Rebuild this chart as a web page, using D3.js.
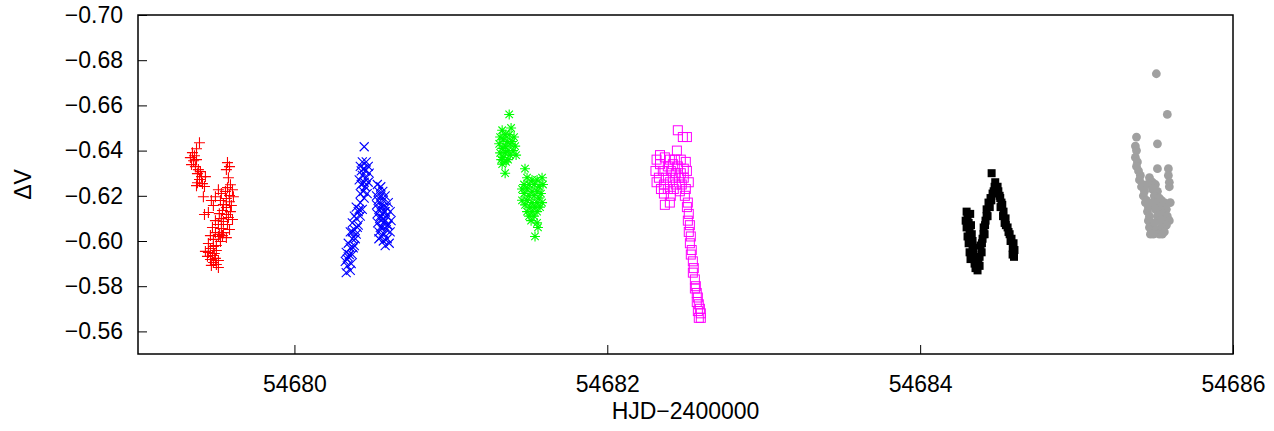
<!DOCTYPE html>
<html>
<head>
<meta charset="utf-8">
<script src="https://cdn.jsdelivr.net/npm/d3@7"></script>
<style>
  html, body { margin: 0; padding: 0; background: #fff; }
  svg { display: block; font-family: "Liberation Sans", Arial, sans-serif; }
</style>
</head>
<body>
<svg id="chart" width="1274" height="431"></svg>
<script>
// ---- Data (HJD-2400000, ΔV) ----
const xTicks = [54680, 54682, 54684, 54686];
const yTicks = [-0.70, -0.68, -0.66, -0.64, -0.62, -0.60, -0.58, -0.56];
const xLabel = "HJD\u22122400000";
const yLabel = "\u0394V";

const redPlus = [
  [54679.393,-0.6435],[54679.374,-0.6408],[54679.348,-0.6391],[54679.361,-0.6377],[54679.335,-0.6369],
  [54679.355,-0.6355],[54679.374,-0.6360],[54679.342,-0.6338],[54679.367,-0.6329],[54679.386,-0.6316],
  [54679.380,-0.6298],[54679.399,-0.6307],[54679.406,-0.6285],[54679.393,-0.6272],[54679.431,-0.6285],
  [54679.380,-0.6258],[54679.412,-0.6254],[54679.374,-0.6245],[54679.425,-0.6241],[54679.418,-0.6196],
  [54679.572,-0.6347],[54679.585,-0.6329],[54679.565,-0.6316],[54679.578,-0.6280],[54679.591,-0.6249],
  [54679.604,-0.6227],[54679.572,-0.6236],[54679.559,-0.6219],[54679.514,-0.6227],[54679.533,-0.6210],
  [54679.495,-0.6196],[54679.585,-0.6201],[54679.610,-0.6196],[54679.565,-0.6188],[54679.469,-0.6179],
  [54679.527,-0.6179],[54679.585,-0.6174],[54679.482,-0.6157],[54679.546,-0.6161],[54679.597,-0.6157],
  [54679.565,-0.6148],[54679.540,-0.6135],[54679.591,-0.6130],[54679.520,-0.6121],[54679.565,-0.6117],
  [54679.425,-0.6117],[54679.450,-0.6126],[54679.578,-0.6104],[54679.533,-0.6099],[54679.604,-0.6095],
  [54679.495,-0.6090],[54679.546,-0.6086],[54679.514,-0.6073],[54679.572,-0.6073],[54679.476,-0.6060],
  [54679.533,-0.6055],[54679.585,-0.6051],[54679.495,-0.6037],[54679.546,-0.6037],[54679.463,-0.6024],
  [54679.514,-0.6020],[54679.565,-0.6015],[54679.482,-0.6007],[54679.527,-0.5998],[54679.450,-0.5989],
  [54679.501,-0.5980],[54679.520,-0.6029],[54679.540,-0.6024],[54679.482,-0.5976],[54679.501,-0.5958],
  [54679.463,-0.5967],[54679.488,-0.5945],[54679.450,-0.5949],[54679.476,-0.5936],[54679.444,-0.5932],
  [54679.495,-0.5923],[54679.463,-0.5918],[54679.482,-0.5905],[54679.514,-0.5914],[54679.501,-0.5896],
  [54679.469,-0.5892],[54679.514,-0.5883],[54679.431,-0.5954]
];

const blueCross = [
  [54680.446,-0.6417],
  [54680.434,-0.635],[54680.459,-0.635],[54680.421,-0.633],[54680.446,-0.632],[54680.472,-0.633],
  [54680.427,-0.631],[54680.453,-0.631],[54680.478,-0.630],[54680.434,-0.629],[54680.459,-0.628],
  [54680.414,-0.627],[54680.446,-0.626],[54680.472,-0.626],[54680.427,-0.625],[54680.453,-0.624],
  [54680.440,-0.622],[54680.465,-0.621],[54680.421,-0.621],[54680.446,-0.619],
  [54680.421,-0.617],[54680.395,-0.615],[54680.434,-0.614],[54680.408,-0.613],[54680.383,-0.611],
  [54680.421,-0.611],[54680.395,-0.610],[54680.370,-0.608],[54680.408,-0.607],[54680.383,-0.605],
  [54680.357,-0.604],[54680.395,-0.603],[54680.370,-0.601],[54680.344,-0.599],[54680.383,-0.598],
  [54680.357,-0.597],[54680.331,-0.595],[54680.370,-0.594],[54680.344,-0.593],[54680.325,-0.591],
  [54680.363,-0.590],[54680.338,-0.589],[54680.357,-0.587],[54680.331,-0.586],[54680.370,-0.604],
  [54680.389,-0.601],[54680.351,-0.594],[54680.376,-0.597],[54680.402,-0.606],[54680.414,-0.614],
  [54680.338,-0.592],
  [54680.530,-0.625],[54680.552,-0.624],[54680.538,-0.622],[54680.565,-0.622],[54680.525,-0.620],
  [54680.552,-0.620],[54680.580,-0.620],[54680.535,-0.618],[54680.568,-0.618],[54680.600,-0.617],
  [54680.525,-0.616],[54680.555,-0.616],[54680.587,-0.615],[54680.540,-0.614],[54680.574,-0.613],
  [54680.612,-0.613],[54680.528,-0.612],[54680.561,-0.612],[54680.593,-0.611],[54680.545,-0.610],
  [54680.580,-0.609],[54680.618,-0.609],[54680.532,-0.608],[54680.568,-0.608],[54680.600,-0.607],
  [54680.549,-0.606],[54680.587,-0.605],[54680.540,-0.604],[54680.574,-0.603],[54680.612,-0.604],
  [54680.555,-0.602],[54680.593,-0.601],[54680.568,-0.600],[54680.540,-0.601],[54680.606,-0.599],
  [54680.580,-0.598],[54680.560,-0.615],[54680.580,-0.613],[54680.548,-0.611],[54680.570,-0.610],
  [54680.595,-0.607],[54680.560,-0.606]
];

const greenStar = [
  [54681.373,-0.656],[54681.328,-0.649],[54681.385,-0.650],[54681.347,-0.647],[54681.315,-0.646],
  [54681.373,-0.647],[54681.404,-0.646],[54681.334,-0.645],[54681.360,-0.644],[54681.392,-0.644],
  [54681.309,-0.643],[54681.347,-0.642],[54681.379,-0.643],[54681.411,-0.642],[54681.328,-0.641],
  [54681.366,-0.640],[54681.398,-0.640],[54681.315,-0.639],[54681.347,-0.639],[54681.379,-0.638],
  [54681.334,-0.637],[54681.366,-0.636],[54681.417,-0.638],[54681.322,-0.636],[54681.353,-0.635],
  [54681.328,-0.634],[54681.347,-0.630],
  [54681.474,-0.632],[54681.583,-0.628],[54681.487,-0.628],[54681.519,-0.627],[54681.551,-0.627],
  [54681.468,-0.625],[54681.500,-0.625],[54681.532,-0.625],[54681.564,-0.624],[54681.589,-0.625],
  [54681.455,-0.623],[54681.487,-0.623],[54681.519,-0.622],[54681.551,-0.622],[54681.576,-0.621],
  [54681.468,-0.621],[54681.500,-0.620],[54681.532,-0.620],[54681.564,-0.619],[54681.455,-0.618],
  [54681.487,-0.618],[54681.519,-0.617],[54681.551,-0.617],[54681.583,-0.617],[54681.474,-0.616],
  [54681.506,-0.615],[54681.538,-0.615],[54681.570,-0.615],[54681.487,-0.613],[54681.519,-0.613],
  [54681.551,-0.613],[54681.500,-0.611],[54681.532,-0.611],[54681.513,-0.609],[54681.551,-0.608],
  [54681.557,-0.606],[54681.538,-0.602]
];

const magentaSquare = [
  [54682.451,-0.649],[54682.483,-0.646],[54682.509,-0.646],[54682.337,-0.638],[54682.445,-0.640],
  [54682.315,-0.636],[54682.368,-0.637],[54682.400,-0.636],[54682.432,-0.636],[54682.470,-0.636],
  [54682.502,-0.635],[54682.337,-0.634],[54682.387,-0.633],[54682.419,-0.634],[54682.451,-0.633],
  [54682.489,-0.632],[54682.308,-0.631],[54682.355,-0.631],[54682.406,-0.631],[54682.438,-0.630],
  [54682.470,-0.630],[54682.509,-0.631],[54682.330,-0.628],[54682.374,-0.628],[54682.419,-0.628],
  [54682.457,-0.628],[54682.489,-0.628],[54682.315,-0.626],[54682.362,-0.625],[54682.400,-0.626],
  [54682.438,-0.625],[54682.476,-0.625],[54682.521,-0.626],[54682.343,-0.623],[54682.387,-0.623],
  [54682.425,-0.623],[54682.464,-0.622],[54682.502,-0.623],[54682.362,-0.621],[54682.406,-0.620],
  [54682.496,-0.620],[54682.368,-0.616],[54682.400,-0.617],[54682.515,-0.617],
  [54682.509,-0.615],[54682.521,-0.612],[54682.515,-0.609],[54682.528,-0.607],[54682.521,-0.604],
  [54682.534,-0.602],[54682.528,-0.599],[54682.540,-0.596],[54682.534,-0.594],[54682.547,-0.591],
  [54682.553,-0.588],[54682.547,-0.586],[54682.560,-0.583],[54682.566,-0.580],[54682.560,-0.579],
  [54682.572,-0.577],[54682.579,-0.575],[54682.572,-0.573],[54682.585,-0.572],[54682.592,-0.570],
  [54682.579,-0.569],[54682.598,-0.568],[54682.585,-0.566],[54682.598,-0.566]
];

const blackSquare = [
  [54684.457,-0.630],
  [54684.297,-0.613],[54684.303,-0.611],[54684.291,-0.609],[54684.310,-0.608],[54684.297,-0.606],
  [54684.316,-0.604],[54684.303,-0.602],[54684.322,-0.601],[54684.310,-0.599],[54684.335,-0.597],
  [54684.316,-0.595],[54684.341,-0.594],[54684.322,-0.592],[54684.348,-0.590],[54684.354,-0.588],
  [54684.367,-0.587],[54684.380,-0.589],
  [54684.380,-0.593],[54684.393,-0.595],[54684.386,-0.598],[54684.399,-0.601],[54684.412,-0.603],
  [54684.406,-0.606],[54684.418,-0.609],[54684.431,-0.611],[54684.425,-0.614],[54684.437,-0.617],
  [54684.450,-0.619],[54684.463,-0.621],[54684.476,-0.624],[54684.495,-0.624],[54684.489,-0.622],
  [54684.508,-0.620],[54684.520,-0.617],[54684.514,-0.615],[54684.533,-0.613],[54684.546,-0.610],
  [54684.540,-0.608],[54684.559,-0.606],[54684.572,-0.603],[54684.584,-0.601],[54684.597,-0.599],
  [54684.603,-0.596],[54684.591,-0.594],
  [54684.320,-0.612],[54684.325,-0.607],[54684.330,-0.603],[54684.335,-0.600],[54684.340,-0.597],
  [54684.345,-0.592],[54684.360,-0.589],[54684.372,-0.591],
  [54684.395,-0.599],[54684.405,-0.603],[54684.415,-0.607],[54684.425,-0.611],[54684.445,-0.615],
  [54684.455,-0.618],[54684.470,-0.622],[54684.480,-0.626],
  [54684.500,-0.622],[54684.512,-0.619],[54684.525,-0.616],[54684.530,-0.611],[54684.548,-0.607],
  [54684.565,-0.604],[54684.578,-0.600],[54684.592,-0.597],[54684.600,-0.593]
];

const grayCircle = [
  [54685.510,-0.674],[54685.580,-0.656],[54685.383,-0.646],[54685.517,-0.643],[54685.517,-0.632],
  [54685.587,-0.632],[54685.587,-0.629],[54685.593,-0.626],[54685.593,-0.624],
  [54685.376,-0.642],[54685.383,-0.640],[54685.376,-0.637],[54685.389,-0.635],[54685.383,-0.633],
  [54685.396,-0.631],[54685.408,-0.629],[54685.402,-0.627],[54685.421,-0.625],[54685.415,-0.624],
  [54685.434,-0.622],[54685.427,-0.620],[54685.447,-0.618],[54685.440,-0.617],[54685.459,-0.615],
  [54685.453,-0.613],[54685.466,-0.611],[54685.459,-0.609],[54685.472,-0.608],[54685.466,-0.606],
  [54685.478,-0.604],[54685.472,-0.603],
  [54685.466,-0.628],[54685.485,-0.626],[54685.453,-0.625],[54685.504,-0.625],[54685.485,-0.623],
  [54685.517,-0.622],[54685.497,-0.620],[54685.529,-0.619],[54685.485,-0.617],[54685.517,-0.617],
  [54685.542,-0.618],[54685.561,-0.617],[54685.536,-0.615],[54685.574,-0.614],[54685.504,-0.614],
  [54685.548,-0.612],[54685.517,-0.611],[54685.580,-0.611],[54685.561,-0.609],[54685.529,-0.609],
  [54685.593,-0.609],[54685.497,-0.608],[54685.574,-0.607],[54685.542,-0.606],[54685.510,-0.605],
  [54685.561,-0.604],[54685.529,-0.603],[54685.491,-0.603],[54685.548,-0.603],[54685.599,-0.617]
];

// ---- Layout ----
const W = 1274, H = 431;
const margin = { left: 138, right: 41, top: 15, bottom: 77 };
const svg = d3.select("#chart");
const FONT = "23px";

const x = d3.scaleLinear().domain([54679, 54686]).range([margin.left, W - margin.right]);
const y = d3.scaleLinear().domain([-0.70, -0.55]).range([margin.top, H - margin.bottom]);

const fmtY = v => d3.format(".2f")(v).replace("-", "\u2212");

// axes
const gx = svg.append("g").attr("transform", `translate(0,${H - margin.bottom})`)
  .call(d3.axisBottom(x).tickValues(xTicks).tickSizeInner(-9).tickSizeOuter(0).tickPadding(22).tickFormat(d3.format("d")));
const gy = svg.append("g").attr("transform", `translate(${margin.left},0)`)
  .call(d3.axisLeft(y).tickValues(yTicks).tickSizeInner(-9).tickSizeOuter(0).tickPadding(15).tickFormat(fmtY));
[gx, gy].forEach(g => {
  g.select(".domain").remove();
  g.selectAll(".tick line").attr("stroke", "#000").attr("stroke-width", 1);
  g.selectAll(".tick text").attr("fill", "#000").style("font-size", FONT)
   .style("font-family", '"Liberation Sans", Arial, sans-serif');
});

// frame
svg.append("rect")
  .attr("x", x.range()[0]).attr("y", y.range()[0])
  .attr("width", x.range()[1] - x.range()[0]).attr("height", y.range()[1] - y.range()[0])
  .attr("fill", "none").attr("stroke", "#000").attr("stroke-width", 1.5);

// labels
svg.append("text").attr("x", (x.range()[0] + x.range()[1]) / 2).attr("y", 419)
  .attr("text-anchor", "middle").style("font-size", FONT).text(xLabel);
svg.append("text").attr("transform", `translate(31,${(y.range()[0] + y.range()[1]) / 2}) rotate(-90)`)
  .attr("text-anchor", "middle").style("font-size", FONT).text(yLabel);

// markers
const plot = svg.append("g");
function linesMarker(data, color, s, kind) {
  const path = d => {
    const cx = x(d[0]), cy = y(d[1]);
    let p = "";
    if (kind === "plus" || kind === "star")
      p += `M${cx - s},${cy}H${cx + s}M${cx},${cy - s}V${cy + s}`;
    if (kind === "cross" || kind === "star") {
      const t = kind === "star" ? s * 0.75 : s;
      p += `M${cx - t},${cy - t}L${cx + t},${cy + t}M${cx - t},${cy + t}L${cx + t},${cy - t}`;
    }
    return p;
  };
  plot.append("g").selectAll("path").data(data).join("path")
    .attr("d", path).attr("stroke", color).attr("stroke-width", 1.1).attr("fill", "none");
}
linesMarker(redPlus, "#ff0000", 5.5, "plus");
linesMarker(blueCross, "#0000ff", 4.5, "cross");
linesMarker(greenStar, "#00ff00", 5, "star");

plot.append("g").selectAll("rect").data(magentaSquare).join("rect")
  .attr("x", d => x(d[0]) - 4.5).attr("y", d => y(d[1]) - 4.5)
  .attr("width", 9).attr("height", 9)
  .attr("fill", "none").attr("stroke", "#ff00ff").attr("stroke-width", 1);

plot.append("g").selectAll("rect").data(blackSquare).join("rect")
  .attr("x", d => x(d[0]) - 4).attr("y", d => y(d[1]) - 4)
  .attr("width", 8).attr("height", 8).attr("fill", "#000");

plot.append("g").selectAll("circle").data(grayCircle).join("circle")
  .attr("cx", d => x(d[0])).attr("cy", d => y(d[1])).attr("r", 4.4)
  .attr("fill", "#a0a0a0");
</script>
</body>
</html>
